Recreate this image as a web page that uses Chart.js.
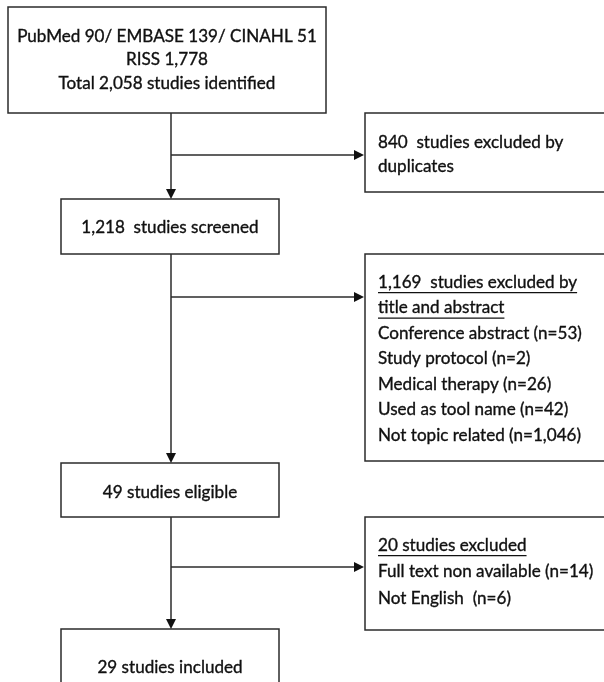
<!DOCTYPE html>
<html>
<head>
<meta charset="utf-8">
<script src="https://cdn.jsdelivr.net/npm/chart.js@4"></script>
<style>
  html, body { margin: 0; padding: 0; background: #ffffff; }
  #wrap { position: relative; width: 604px; height: 682px; }
</style>
</head>
<body>
<div id="wrap"><canvas id="c"></canvas></div>
<script>
// ---- Data ----
const sources = ['PubMed', 'EMBASE', 'CINAHL', 'RISS'];
const sourceCounts = [90, 139, 51, 1778];
const totalIdentified = 2058;
const duplicatesExcluded = 840;
const screened = 1218;
const titleAbstractExcluded = 1169;
const titleReasons = ['Conference abstract', 'Study protocol', 'Medical therapy', 'Used as tool name', 'Not topic related'];
const titleReasonCounts = [53, 2, 26, 42, 1046];
const eligible = 49;
const fullTextExcluded = 20;
const fullTextReasons = ['Full text non available', 'Not English '];
const fullTextReasonCounts = [14, 6];
const included = 29;

const fmt = n => n.toLocaleString('en-US');

// ---- Layout (diagram units = pixels of the 604x682 frame) ----
const mainBoxes = [
  { l: 8,  t: 7,   r: 326, b: 113 },
  { l: 61, t: 199, r: 279, b: 254 },
  { l: 61, t: 463, r: 279, b: 517 },
  { l: 61, t: 629, r: 279, b: 700 }
];
const sideBoxes = [
  { l: 365, t: 113, r: 620, b: 192 },
  { l: 365, t: 254, r: 620, b: 461 },
  { l: 365, t: 517, r: 620, b: 630 }
];
const trunkX = 171;
const branchY = [155, 297, 567];

const mainTexts = [
  { lines: [
      sources[0] + ' ' + sourceCounts[0] + '/ ' + sources[1] + ' ' + sourceCounts[1] + '/ ' + sources[2] + ' ' + sourceCounts[2],
      sources[3] + ' ' + fmt(sourceCounts[3]),
      'Total ' + fmt(totalIdentified) + ' studies identified'
    ], y: [36, 59, 83], cx: 167 },
  { lines: [fmt(screened) + '  studies screened'], y: [227], cx: 170 },
  { lines: [eligible + ' studies eligible'], y: [492], cx: 170 },
  { lines: [included + ' studies included'], y: [667], cx: 170 }
];
const sideTexts = [
  { lines: [duplicatesExcluded + '  studies excluded by', 'duplicates'], underline: 0, y0: 142, dy: 24 },
  { lines: [fmt(titleAbstractExcluded) + '  studies excluded by', 'title and abstract']
      .concat(titleReasons.map((r, i) => r + ' (n=' + fmt(titleReasonCounts[i]) + ')')),
    underline: 2, y0: 282, dy: 25.5 },
  { lines: [fullTextExcluded + ' studies excluded']
      .concat(fullTextReasons.map((r, i) => r + ' (n=' + fmt(fullTextReasonCounts[i]) + ')')),
    underline: 1, y0: 545, dy: 26.5 }
];
const textLeft = 378;

const flowPlugin = {
  id: 'flow',
  afterDraw(chart) {
    const ctx = chart.ctx;
    const xs = chart.scales.x, ys = chart.scales.y;
    const X = v => xs.getPixelForValue(v);
    const Y = v => ys.getPixelForValue(v);
    const fam = '"Lato", "Open Sans", sans-serif';
    ctx.font = '16px ' + fam;
    const w = ctx.measureText('Conference abstract (n=53)').width;
    const fs = 16 * 204 / w;
    const font = fs.toFixed(2) + 'px ' + fam;

    ctx.save();
    const lineCol = '#2b2b2b';
    ctx.lineWidth = 1.5;
    ctx.strokeStyle = lineCol;
    ctx.fillStyle = '#ffffff';
    [...mainBoxes, ...sideBoxes].forEach(bx => {
      const x = X(bx.l), y = Y(bx.t), w2 = X(bx.r) - X(bx.l), h = Y(bx.b) - Y(bx.t);
      ctx.fillRect(x, y, w2, h);
      ctx.strokeRect(x, y, w2, h);
    });

    function arrowHead(tx, ty, dir) {
      const L = 10, H = 5;
      ctx.beginPath();
      if (dir === 'down') {
        ctx.moveTo(tx, ty); ctx.lineTo(tx - H, ty - L); ctx.lineTo(tx + H, ty - L);
      } else {
        ctx.moveTo(tx, ty); ctx.lineTo(tx - L, ty - H); ctx.lineTo(tx - L, ty + H);
      }
      ctx.closePath();
      ctx.fillStyle = '#111111';
      ctx.fill();
    }
    for (let i = 0; i < mainBoxes.length - 1; i++) {
      const y1 = Y(mainBoxes[i].b), y2 = Y(mainBoxes[i + 1].t);
      ctx.beginPath();
      ctx.moveTo(X(trunkX), y1);
      ctx.lineTo(X(trunkX), y2 - 9);
      ctx.stroke();
      arrowHead(X(trunkX), y2, 'down');
      const by = Y(branchY[i]);
      ctx.beginPath();
      ctx.moveTo(X(trunkX), by);
      ctx.lineTo(X(sideBoxes[i].l) - 9, by);
      ctx.stroke();
      arrowHead(X(sideBoxes[i].l) - 1, by, 'right');
    }

    ctx.fillStyle = '#111111';
    ctx.strokeStyle = '#111111';
    ctx.font = font;
    ctx.textBaseline = 'middle';
    function txt(s, x, y) {
      ctx.lineWidth = 0.35;
      ctx.fillText(s, x, y);
      ctx.strokeText(s, x, y);
    }
    ctx.textAlign = 'center';
    mainTexts.forEach(t => {
      t.lines.forEach((ln, i) => txt(ln, X(t.cx), Y(t.y[i])));
    });
    ctx.textAlign = 'left';
    sideTexts.forEach(t => {
      t.lines.forEach((ln, i) => {
        const y = Y(t.y0 + i * t.dy);
        txt(ln, X(textLeft), y);
        if (i < t.underline) {
          const lw = ctx.measureText(ln.replace(/\s+$/, '')).width;
          ctx.beginPath();
          ctx.lineWidth = 1.2;
          ctx.moveTo(X(textLeft), y + fs * 0.62);
          ctx.lineTo(X(textLeft) + lw, y + fs * 0.62);
          ctx.stroke();
        }
      });
    });
    ctx.restore();
  }
};

new Chart(document.getElementById('c'), {
  type: 'scatter',
  data: { datasets: [{ data: [], pointRadius: 0 }] },
  options: {
    responsive: true,
    maintainAspectRatio: false,
    animation: false,
    layout: { padding: 0 },
    plugins: { legend: { display: false }, tooltip: { enabled: false } },
    scales: {
      x: { type: 'linear', min: 0, max: 604, display: false },
      y: { type: 'linear', min: 0, max: 682, reverse: true, display: false }
    }
  },
  plugins: [flowPlugin]
});
</script>
</body>
</html>
